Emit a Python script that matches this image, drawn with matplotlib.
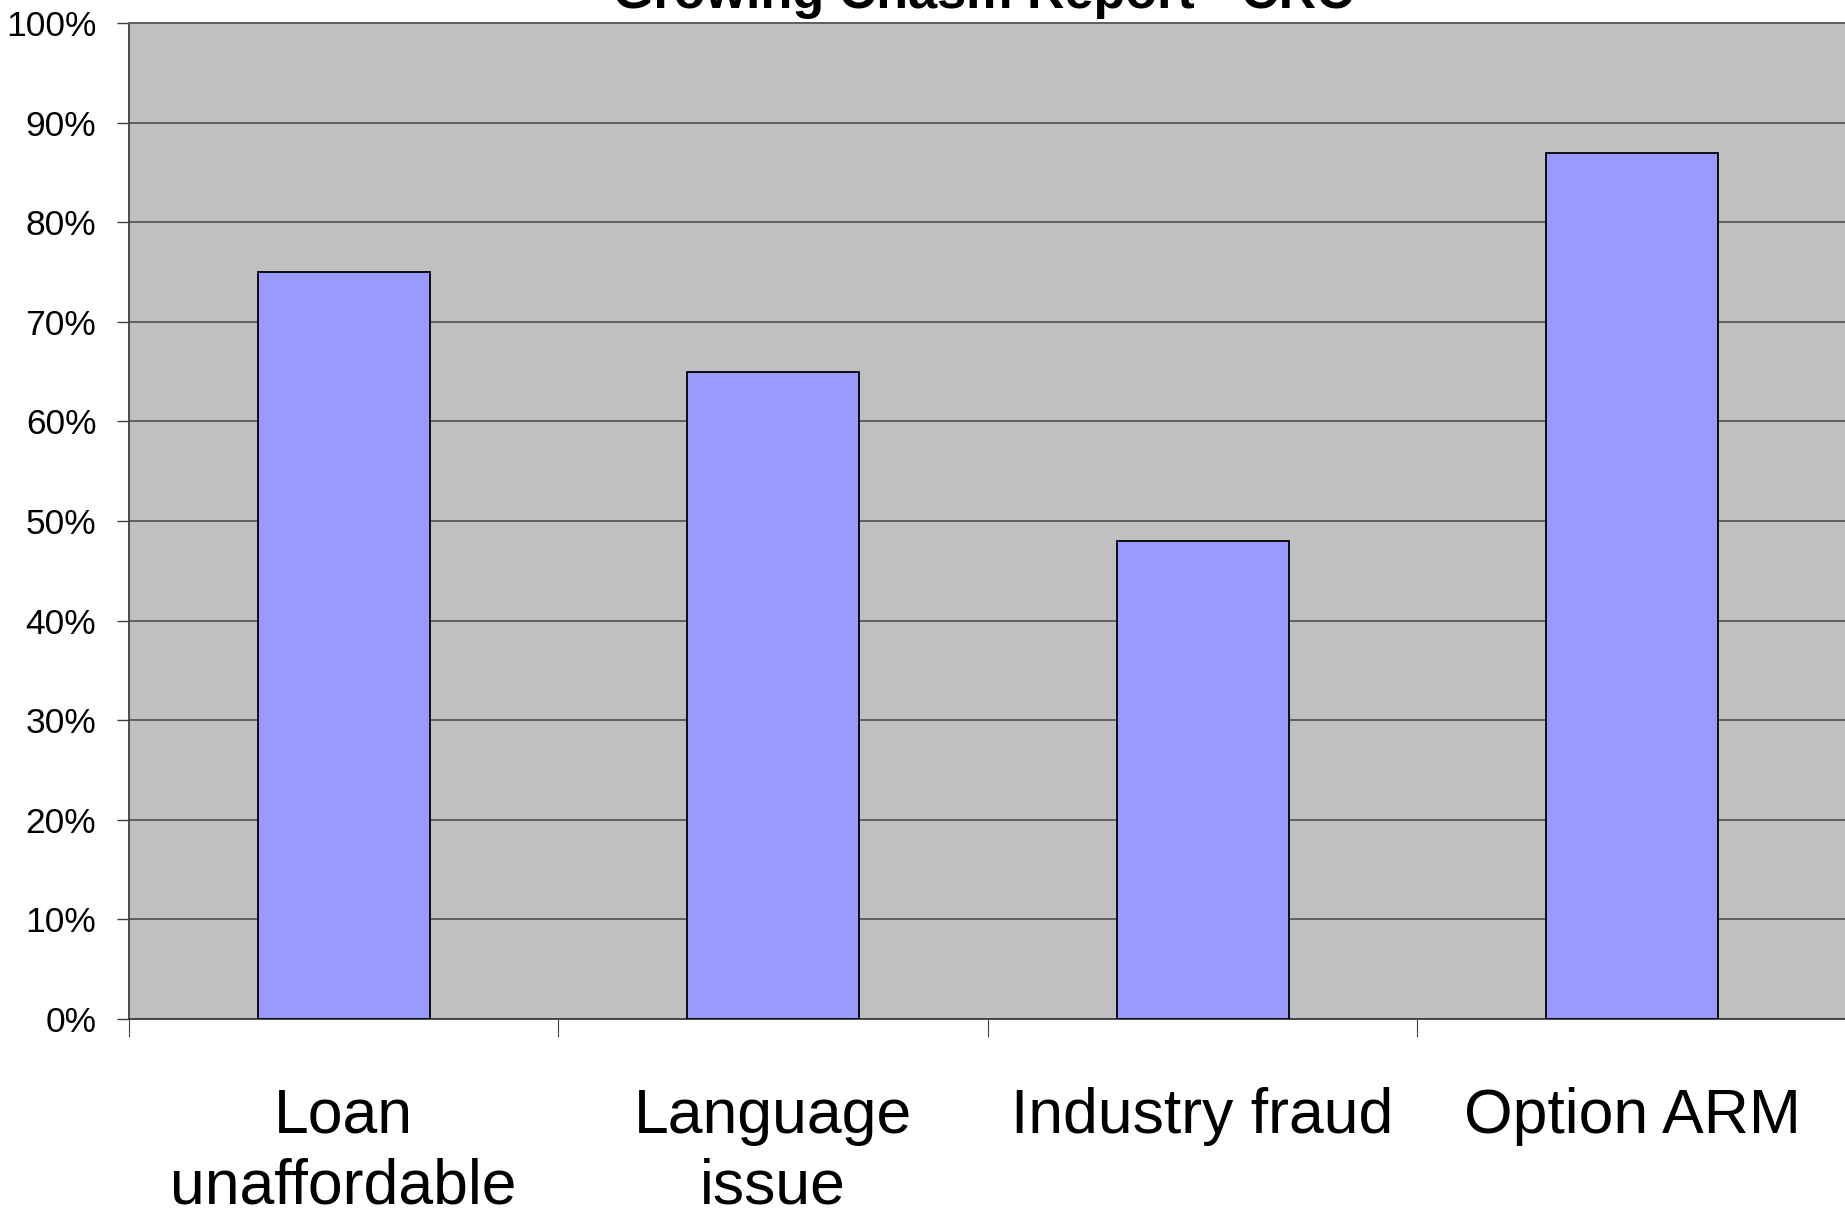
import matplotlib
matplotlib.use("Agg")
import matplotlib.pyplot as plt

plt.rcParams['font.family'] = ['Liberation Sans', 'DejaVu Sans']

categories = ["Loan\nunaffordable", "Language\nissue", "Industry fraud", "Option ARM"]
values = [75, 65, 48, 87]
yticks = [0, 10, 20, 30, 40, 50, 60, 70, 80, 90, 100]
ytick_labels = ["%d%%" % v for v in yticks]
title = "Growing Chasm Report - CRC"

fig = plt.figure(figsize=(18.45, 12.13), dpi=100)
ax = fig.add_axes([0.0699, 0.160, 0.9311, 0.821])
ax.set_facecolor('#C0C0C0')

x = list(range(len(categories)))
ax.bar(x, values, width=0.4, color='#9999FF', edgecolor='black',
       linewidth=1.3, zorder=3)

ax.set_xlim(-0.5, len(categories) - 0.5)
ax.set_ylim(0, 100)

# gridlines
ax.set_yticks(yticks)
ax.set_yticklabels(ytick_labels, fontsize=25.5)
ax.yaxis.grid(True, color='#606060', linewidth=1.4, zorder=1)
ax.set_axisbelow(True)
ax.tick_params(axis='y', length=8.5, width=1.0, pad=15, color='#404040')

# category labels in centre, ticks at boundaries
ax.set_xticks(x)
ax.set_xticklabels(categories, fontsize=45, linespacing=1.25)
ax.tick_params(axis='x', which='major', length=0, pad=49)
ax.set_xticks([i - 0.5 for i in x], minor=True)
ax.tick_params(axis='x', which='minor', length=13, width=0.8, color='#404040')

for s in ['left', 'bottom']:
    ax.spines[s].set_color('#404040')
    ax.spines[s].set_linewidth(1.3)
ax.spines['top'].set_color('#606060')
ax.spines['top'].set_linewidth(1.4)
ax.spines['right'].set_visible(False)

fig.text(0.533, 1 - 8 / 1213.0, title, ha='center', va='baseline',
         fontsize=37.5, fontweight='bold')

fig.savefig("out.png", dpi=100)
